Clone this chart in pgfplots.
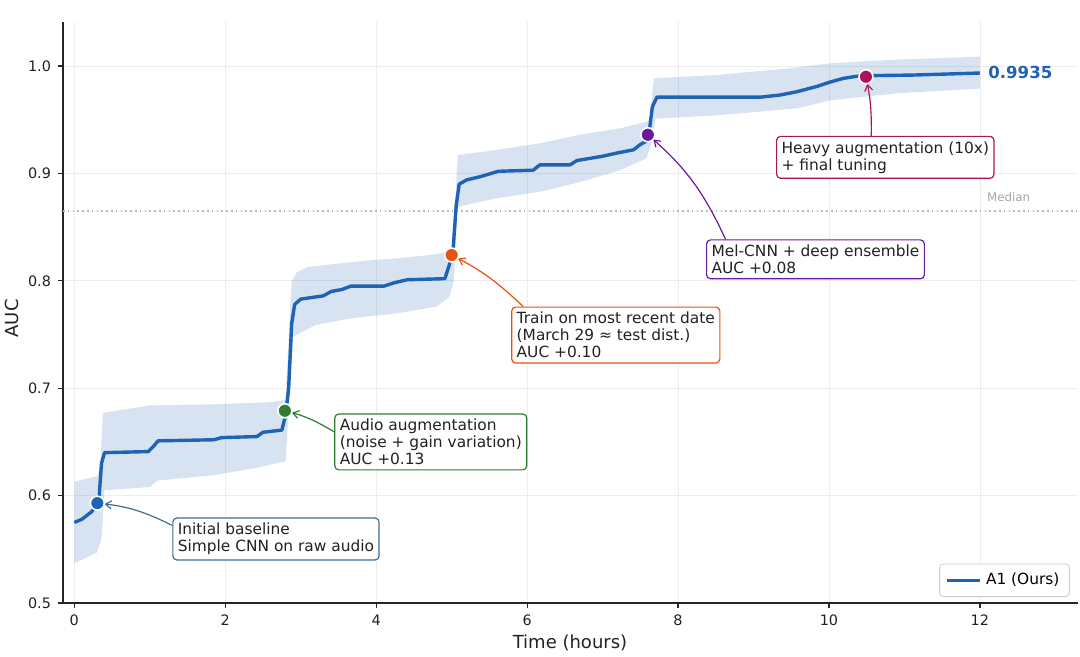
\documentclass[border=0pt]{standalone}
\usepackage{pgfplots}
\pgfplotsset{compat=1.18}
\usepgfplotslibrary{fillbetween}
\usetikzlibrary{arrows.meta}
\usepackage{fontspec}
\setmainfont{DejaVu Sans}
\definecolor{mainblue}{RGB}{31,99,180}
\definecolor{mgreen}{RGB}{46,125,50}
\definecolor{morange}{RGB}{230,85,15}
\definecolor{mpurple}{RGB}{106,27,154}
\definecolor{mcrimson}{RGB}{173,20,87}
\definecolor{bblue}{RGB}{60,110,150}
\definecolor{txt}{RGB}{34,34,34}
\begin{document}
\begin{tikzpicture}
\begin{axis}[
  scale only axis, width=507.5pt, height=290.5pt,
  xmin=-0.15, xmax=13.3, ymin=0.5, ymax=1.041,
  axis x line*=bottom, axis y line*=left,
  axis line style={line width=0.7pt, black!85},
  xtick={0,2,4,6,8,10,12},
  ytick={0.5,0.6,0.7,0.8,0.9,1.0},
  yticklabel style={/pgf/number format/.cd, fixed, fixed zerofill, precision=1},
  /pgf/number format/assume math mode=true,
  tick label style={font=\fontsize{7.2}{8}\selectfont, text=txt},
  tick align=outside, major tick length=2.5pt,
  tick style={line width=0.6pt, black!85},
  grid=major, major grid style={line width=0.4pt, black!7},
  xlabel={Time (hours)}, ylabel={AUC},
  label style={font=\fontsize{9}{10}\selectfont, text=txt},
  xlabel style={at={(axis description cs:0.4995,-0.0688)}, anchor=center},
  ylabel style={at={(axis description cs:-0.0502,0.49)}, anchor=center, rotate=0},
  clip=false,
  legend style={at={(axis description cs:0.992,0.0103)}, anchor=south east,
    draw=black!20, rounded corners=2pt, font=\fontsize{7.7}{8.5}\selectfont,
    inner xsep=3pt, inner ysep=2.5pt},
  legend cell align=left,
  legend image code/.code={\draw[#1] (0pt,0pt) -- (16.5pt,0pt);},
]
% median
\addplot[forget plot, black!28, line width=0.6pt, dash pattern=on 0.8pt off 1.6pt] coordinates {(-0.15,0.865) (13.3,0.865)};
% band
\addplot[name path=up, draw=none, forget plot] coordinates {
(0.00,0.613) (0.30,0.618) (0.34,0.625) (0.38,0.677) (1.00,0.684) (1.85,0.685)
(2.60,0.687) (2.80,0.689) (2.88,0.800) (2.95,0.808) (3.10,0.813) (3.90,0.819)
(4.30,0.821) (4.70,0.824) (4.98,0.827) (5.02,0.835) (5.08,0.917) (5.60,0.922)
(6.17,0.928) (6.70,0.936) (7.23,0.942) (7.58,0.948) (7.62,0.950) (7.68,0.9885)
(8.50,0.9916) (9.50,0.998) (10.01,1.0025) (10.90,1.006) (12.00,1.0087)};
\addplot[name path=lo, draw=none, forget plot] coordinates {
(0.00,0.537) (0.30,0.547) (0.36,0.560) (0.40,0.605) (1.00,0.608) (1.10,0.614)
(1.85,0.619) (2.42,0.626) (2.80,0.632) (2.90,0.748) (3.20,0.759) (3.66,0.765)
(4.30,0.770) (4.80,0.776) (4.97,0.785) (5.03,0.800) (5.08,0.869) (5.60,0.877)
(6.17,0.883) (6.70,0.892) (7.23,0.903) (7.58,0.914) (7.66,0.930) (7.70,0.951)
(8.50,0.954) (9.57,0.9606) (10.01,0.968) (10.90,0.9746) (12.00,0.979)};
\addplot[forget plot, fill=mainblue, fill opacity=0.18, draw=none] fill between[of=up and lo];
% main line
\addplot[mainblue, line width=1.7pt, line join=round] coordinates {
(0.00,0.575) (0.10,0.578) (0.23,0.585) (0.30,0.592) (0.33,0.600) (0.36,0.630)
(0.40,0.640) (0.98,0.641) (1.05,0.646) (1.11,0.651) (1.85,0.652) (1.95,0.654)
(2.42,0.655) (2.50,0.659) (2.75,0.661) (2.80,0.675) (2.84,0.700) (2.88,0.760)
(2.92,0.778) (3.00,0.783) (3.30,0.786) (3.40,0.790) (3.55,0.792) (3.66,0.795)
(4.10,0.795) (4.23,0.798) (4.41,0.801) (4.91,0.802) (4.97,0.815) (5.02,0.830)
(5.06,0.870) (5.10,0.890) (5.20,0.894) (5.38,0.897) (5.62,0.902) (6.08,0.903)
(6.17,0.908) (6.57,0.908) (6.66,0.912) (7.00,0.916) (7.19,0.919) (7.41,0.922)
(7.50,0.927) (7.58,0.930) (7.62,0.940) (7.66,0.962) (7.72,0.971) (9.09,0.971)
(9.35,0.973) (9.57,0.976) (9.84,0.981) (10.01,0.985) (10.19,0.9885) (10.37,0.9905)
(10.50,0.9910) (11.12,0.9916) (12.00,0.9935)};
\addlegendentry{A1 (Ours)}
% markers
\addplot[forget plot, only marks, mark=*, mark size=3.5pt, mark options={fill=mainblue, draw=white, line width=0.8pt}] coordinates {(0.305,0.593)};
\addplot[forget plot, only marks, mark=*, mark size=3.5pt, mark options={fill=mgreen, draw=white, line width=0.8pt}] coordinates {(2.79,0.679)};
\addplot[forget plot, only marks, mark=*, mark size=3.5pt, mark options={fill=morange, draw=white, line width=0.8pt}] coordinates {(5.0,0.824)};
\addplot[forget plot, only marks, mark=*, mark size=3.5pt, mark options={fill=mpurple, draw=white, line width=0.8pt}] coordinates {(7.60,0.936)};
\addplot[forget plot, only marks, mark=*, mark size=3.5pt, mark options={fill=mcrimson, draw=white, line width=0.8pt}] coordinates {(10.49,0.990)};
% annotation boxes
\tikzset{abox/.style={draw=#1, line width=0.6pt, rounded corners=2pt, fill=white, fill opacity=0.92, text opacity=1, text=txt, align=left, inner xsep=2.5pt, inner ysep=2.5pt, font=\fontsize{7.7}{8.5}\selectfont, anchor=west},
 aarr/.style={draw=#1, line width=0.6pt, -{Straight Barb[length=3pt,width=4pt]}, shorten >=3.6pt}}
\node[abox=bblue] (b1) at (axis cs:1.298,0.5596) {Initial baseline\\Simple CNN on raw audio};
\node[abox=mgreen] (b2) at (axis cs:3.444,0.650) {Audio augmentation\\(noise + gain variation)\\AUC +0.13};
\node[abox=morange] (b3) at (axis cs:5.788,0.7495) {Train on most recent date\\(March 29 ≈ test dist.)\\AUC +0.10};
\node[abox=mpurple] (b4) at (axis cs:8.371,0.820) {Mel-CNN + deep ensemble\\AUC +0.08};
\node[abox=mcrimson] (b5) at (axis cs:9.298,0.915) {Heavy augmentation (10x)\\+ final tuning};
\draw[aarr=bblue] ([yshift=-4pt]b1.north west) to[bend right=10] (axis cs:0.305,0.593);
\draw[aarr=mgreen] ([yshift=5pt]b2.west) to[bend right=8] (axis cs:2.79,0.679);
\draw[aarr=morange] ([xshift=6pt]b3.north west) to[bend right=8] (axis cs:5.0,0.824);
\draw[aarr=mpurple] ([xshift=-45pt]b4.north) to[bend right=12] (axis cs:7.60,0.936);
\draw[aarr=mcrimson] ([xshift=-7pt]b5.north) to[bend right=6] (axis cs:10.49,0.990);
% labels
\node[anchor=west, inner sep=0pt, text=mainblue, font=\fontsize{8.3}{9}\selectfont\bfseries] at (axis cs:12.106,0.9944) {0.9935};
\node[anchor=west, inner sep=0pt, text=black!35, font=\fontsize{5.9}{6.5}\selectfont] at (axis cs:12.09,0.878) {Median};
\end{axis}
\pgfresetboundingbox
\path ([shift={(-31.5pt,-26.5pt)}]current axis.south west) rectangle ([shift={(1pt,11pt)}]current axis.north east);
\end{tikzpicture}
\end{document}
